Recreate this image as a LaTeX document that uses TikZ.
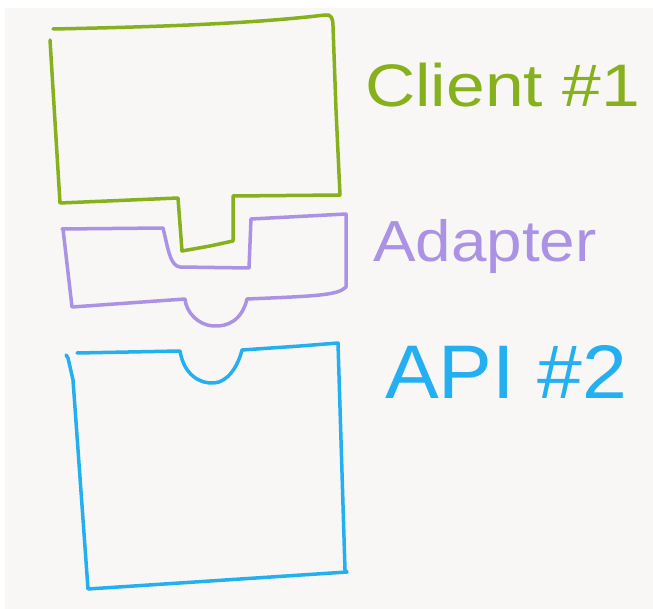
\documentclass[tikz,border=0pt]{standalone}
\usepackage{graphicx}
\usepackage{fontspec}
\setmainfont{Liberation Sans}
\usepackage{tikz}
\definecolor{clientgreen}{RGB}{134,176,28}
\definecolor{adapterpurple}{RGB}{172,146,228}
\definecolor{apiblue}{RGB}{36,175,240}
\definecolor{paper}{RGB}{248,247,245}
\def\clientpiece{(53,29) .. controls (150,27) and (250,24) .. (325,15) .. controls (331,14) and (333,18) .. (333,26) -- (336,110) -- (340,195) -- (233,196) -- (233,241) -- (210,246) -- (182,251) -- (178,198) -- (60,203) -- (50,40)}
\def\adapterpiece{(62,229) -- (163,228) .. controls (168,248) and (170,266) .. (180,267) -- (249,268) -- (251,219) -- (346,214) -- (346,287) .. controls (338,295) and (320,296) .. (247,299) .. controls (242,320) and (228,327) .. (213,326) .. controls (198,325) and (186,312) .. (185,299) -- (72,307) -- (63,229)}
\def\apipiece{(77,353) -- (180,351) .. controls (184,375) and (200,384) .. (214,383) .. controls (228,382) and (238,366) .. (242,350) -- (300,346) -- (338,343) -- (345,570) -- (347,572) -- (88,589) -- (73,380) -- (68,358) -- (66,355)}

\begin{document}
\begin{tikzpicture}[x=1pt,y=-1pt,
  pen/.style={line width=3.5pt,line cap=round,line join=round},
  label/.style={anchor=base west,inner sep=0pt}]
			\useasboundingbox (0,0) rectangle (653,609);
			\fill[white] (0,0) rectangle (653,609);
			\fill[paper] (5,8) rectangle (653,609);
			\draw[pen,clientgreen] \clientpiece;
			\draw[pen,adapterpurple] \adapterpiece;
			\draw[pen,apiblue] \apipiece;
			\node[label,text=clientgreen] (clientlabel) at (365,107) {\fontsize{60}{60}\selectfont\scalebox{1.16}[1]{Client \#1}};
			\node[label,text=adapterpurple] (adapterlabel) at (373,262) {\fontsize{58}{58}\selectfont\scalebox{1.1}[1]{Adapter}};
			\node[label,text=apiblue] (apilabel) at (385,398) {\fontsize{76}{76}\selectfont\scalebox{1.06}[1]{API \#2}};
		\end{tikzpicture}
\end{document}
